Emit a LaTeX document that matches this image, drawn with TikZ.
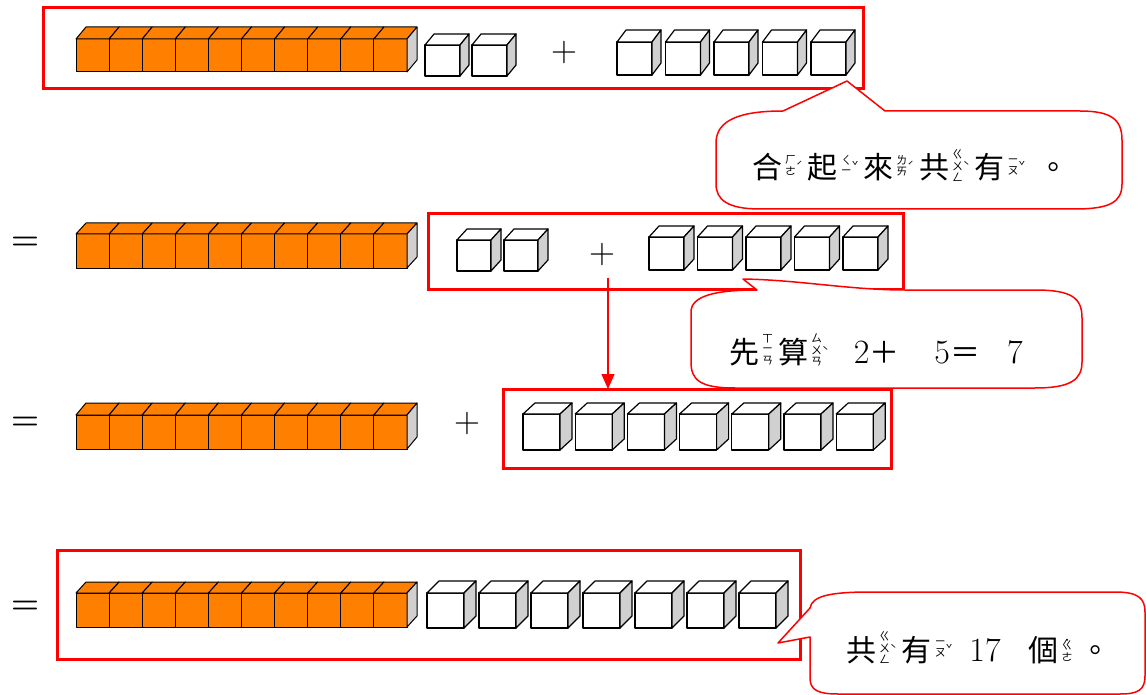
\documentclass[tikz,border=0pt]{standalone}
\usepackage{fontspec}
\usetikzlibrary{arrows.meta}
\newfontfamily\cjk{Noto Sans CJK TC}
\newfontfamily\zyv[RawFeature=+vert]{Noto Sans CJK TC}
\definecolor{boxred}{HTML}{FF0000}
\definecolor{cubeorange}{HTML}{FF8000}
\definecolor{cubeside}{HTML}{D0D0D0}
\newcommand{\zyi}{{\zyv ㄧ}}
\newcommand{\zy}[2]{\kern3pt\raisebox{9pt}{\fontsize{11}{11}\selectfont\cjk\setlength\tabcolsep{0pt}\renewcommand\arraystretch{0.95}\begin{tabular}{c}#1\end{tabular}\raisebox{-1pt}{#2}}\kern5pt}
\newcommand{\zyq}[1]{\kern3pt\raisebox{9pt}{\fontsize{11}{11}\selectfont\cjk\setlength\tabcolsep{0pt}\renewcommand\arraystretch{0.95}\begin{tabular}{c}\raisebox{-4pt}{˙}\\[-4pt]#1\end{tabular}}\kern8pt}
\newcommand{\dg}[1]{{\rmfamily\fontsize{34}{34}\selectfont #1}}
\tikzset{
  cubeline/.style={draw=black, line width=1.2pt, line join=round},
  barline/.style={draw=black, line width=1pt, line join=round},
  redbox/.style={draw=boxred, line width=3pt, minimum width=#1, inner sep=0pt, outer sep=0pt, anchor=north west},
  callout/.style={draw=boxred, line width=1.5pt, fill=white, line join=round},
  bigsign/.style={font=\rmfamily\fontsize{36}{36}\selectfont, inner sep=0pt},
  eqsign/.style={font=\rmfamily\bfseries\fontsize{32}{32}\selectfont, inner sep=0pt},
  saytext/.style={anchor=base west, inner sep=0pt, font=\fontsize{30}{30}\selectfont\cjk}
}
\newcommand{\wcube}[6]{%
  \filldraw[cubeline, fill=white] (#1,#2) rectangle ++(#3,#4);
  \filldraw[cubeline, fill=white] (#1,#2) -- ++(#5,-#6) -- ++(#3,0) -- ++(-#5,#6) -- cycle;
  \filldraw[cubeline, fill=cubeside] (#1+#3,#2) -- ++(#5,-#6) -- ++(0,#4) -- ++(-#5,#6) -- cycle;
}
\newcommand{\obar}[5]{%
  \foreach \i in {0,...,9} {
    \filldraw[barline, fill=cubeorange] ({#1+\i*33.1},#2) rectangle ++(33.1,#3);
    \filldraw[barline, fill=cubeorange] ({#1+\i*33.1},#2) -- ++(#4,-#5) -- ++(33.1,0) -- ++(-#4,#5) -- cycle;
  }
  \filldraw[barline, fill=cubeside] (#1+331,#2) -- ++(#4,-#5) -- ++(0,#3) -- ++(-#4,#5) -- cycle;
}
\begin{document}
\begin{tikzpicture}[x=1pt,y=-1pt]
\fill[white] (0,0) rectangle (1146,695);
\useasboundingbox (0,0) rectangle (1146,695);

% ---------- row 1 ----------
\node[redbox=820pt, minimum height=81pt] (box1) at (43,8) {};
\obar{76}{39}{33}{10}{12}
\foreach \k in {0,1} {\wcube{425+\k*47}{45}{35}{31}{9}{11}}
\node[bigsign] (plus1) at (564,53) {+};
\foreach \k in {0,...,4} {\wcube{617+\k*48.5}{42}{35}{33}{9}{12}}

% ---------- row 2 ----------
\node[eqsign] (eq2) at (25,243) {=};
\obar{76}{234}{34}{10}{11}
\node[redbox=475pt, minimum height=75pt] (box2) at (428,214) {};
\foreach \k in {0,1} {\wcube{457+\k*47}{240}{34}{31}{10}{11}}
\node[bigsign] (plus2) at (602,255) {+};
\foreach \k in {0,...,4} {\wcube{649+\k*48.5}{237}{35}{33}{10}{11}}

% ---------- row 3 ----------
\node[eqsign] (eq3) at (25,423) {=};
\obar{76}{415}{34}{10}{12}
\node[bigsign] (plus3) at (467,424) {+};
\foreach \k in {0,...,6} {\wcube{523+\k*52.2}{414}{37}{36}{12}{11}}

% ---------- row 4 ----------
\node[eqsign] (eq4) at (25,607) {=};
\node[redbox=743pt, minimum height=109pt] (box4) at (57,550) {};
\obar{76}{593}{34}{10}{11}
\foreach \k in {0,...,6} {\wcube{427+\k*52}{593}{37}{35}{12}{12}}

% ---------- callout 1 ----------
\draw[callout] (783,111) -- (847,81) -- (885,111) -- (1080,111)
  .. controls (1112,111) and (1122,120) .. (1122,140) -- (1122,184)
  .. controls (1122,202) and (1110,209) .. (1075,209) -- (760,209)
  .. controls (728,209) and (716,200) .. (716,184) -- (716,143)
  .. controls (716,120) and (740,111) .. (783,111) -- cycle;
\node[saytext] (t1) at (752,179) {合\zy{ㄏ\\ㄜ}{ˊ}起\zy{ㄑ\\\zyi}{ˇ}來\zy{ㄌ\\ㄞ}{ˊ}共\zy{ㄍ\\ㄨ\\ㄥ}{ˋ}有\zy{\zyi\\ㄡ}{ˇ}\kern8pt。};

% ---------- callout 2 ----------
\draw[callout] (757,290) -- (743,279) .. controls (800,280) and (850,290) .. (905,290) -- (1035,290)
  .. controls (1072,290) and (1082,298) .. (1082,318) -- (1082,362)
  .. controls (1082,380) and (1070,388) .. (1035,388) -- (735,388)
  .. controls (700,388) and (691,380) .. (691,362) -- (691,312)
  .. controls (691,296) and (715,290) .. (757,290) -- cycle;
\node[saytext] (t2) at (729,363) {先\zy{ㄒ\\\zyi\\ㄢ}{}算\zy{ㄙ\\ㄨ\\ㄢ}{ˋ}\hspace{20pt}\dg{2}＋\hspace{35pt}\dg{5}＝\hspace{27pt}\dg{7}};

% ---------- box 3 and arrow ----------
\node[redbox=388pt, minimum height=79pt] (box3) at (503,389) {};
\coordinate (arrstart) at (608,278);
\draw[draw=boxred, line width=1.5pt, -{Triangle[length=15pt,width=13pt]}] (arrstart) -- (arrstart |- box3.north);

% ---------- callout 3 ----------
\draw[callout] (810,637) -- (778,643) -- (810,608)
  .. controls (812,596) and (830,592) .. (870,592) -- (1115,592)
  .. controls (1138,592) and (1145,598) .. (1145,612) -- (1145,676)
  .. controls (1145,690) and (1138,694) .. (1120,694) -- (838,694)
  .. controls (818,694) and (810,690) .. (810,678) -- cycle;
\node[saytext] (t3) at (846,661) {共\zy{ㄍ\\ㄨ\\ㄥ}{ˋ}有\zy{\zyi\\ㄡ}{ˇ}\hspace{12pt}\dg{17}\hspace{28pt}個\zyq{ㄍ\\ㄜ}。};
\end{tikzpicture}
\end{document}
